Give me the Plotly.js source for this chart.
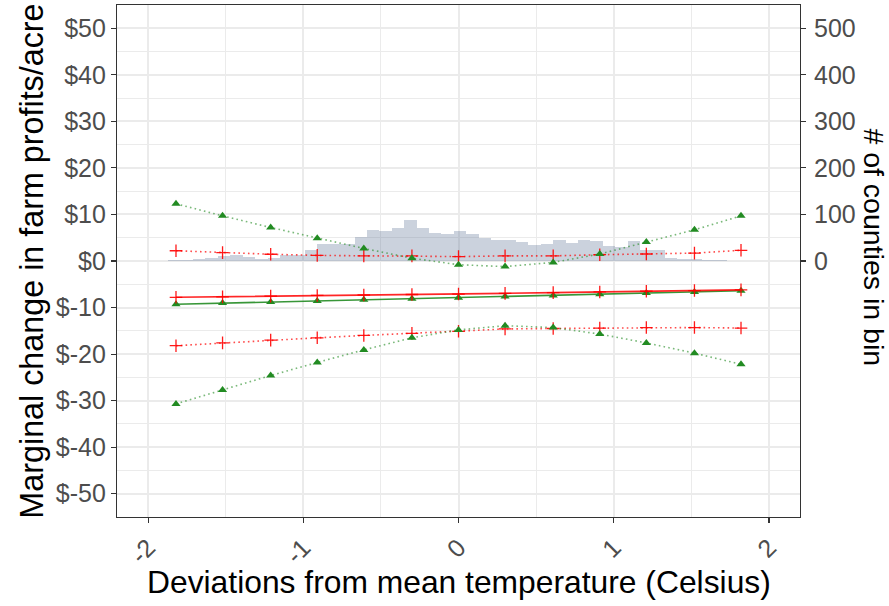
<!DOCTYPE html>
<html>
<head>
<meta charset="utf-8">
<script src="https://cdn.plot.ly/plotly-3.0.1.min.js"></script>
<style>html,body{margin:0;padding:0;background:#fff;}#chart{width:889px;height:606px;}</style>
</head>
<body>
<div id="chart"></div>
<script>
// ---- data ----
const tempPoints = [-1.82,-1.52,-1.21,-0.91,-0.61,-0.30,0,0.30,0.61,0.91,1.21,1.52,1.82];
const redEst   = [-7.8,-7.7,-7.55,-7.4,-7.3,-7.2,-7.1,-6.95,-6.8,-6.65,-6.5,-6.35,-6.2];
const redUpper = [2.2,1.8,1.45,1.2,1.1,1.1,0.95,1.1,1.1,1.35,1.5,1.7,2.3];
const redLower = [-18.2,-17.6,-17.0,-16.5,-16.0,-15.55,-15.1,-14.6,-14.5,-14.4,-14.3,-14.3,-14.4];
const greenEst   = [-9.3,-9.05,-8.8,-8.6,-8.35,-8.1,-7.9,-7.65,-7.4,-7.15,-6.9,-6.65,-6.4];
const greenUpper = [12.3,9.7,7.2,4.9,2.7,0.6,-0.8,-1.2,-0.3,1.5,4.1,6.7,9.7];
const greenLower = [-30.7,-27.7,-24.6,-21.8,-19.1,-16.5,-14.8,-13.9,-14.3,-15.7,-17.6,-19.8,-22.2];

const binCenters = [-1.83,-1.75,-1.67,-1.59,-1.51,-1.43,-1.35,-1.27,-1.19,-1.11,-1.03,-0.95,-0.87,-0.79,-0.71,
  -0.63,-0.55,-0.47,-0.39,-0.31,-0.23,-0.15,-0.07,0.01,0.09,0.17,0.25,0.33,0.41,0.49,0.57,0.65,0.73,0.81,0.89,
  0.97,1.05,1.13,1.21,1.29,1.37,1.45,1.53,1.61,1.69];
const binCounts = [2,2,4,7,10,13,9,5,6,12,13,24,36,37,36,52,66,64,71,89,70,60,57,64,57,50,46,46,41,35,36,45,38,45,44,
  33,30,43,24,23,7,5,5,2,2];
const binWidth = 0.08;

const xTickVals = [-2,-1,0,1,2];
const xTickText = ["-2","-1","0","1","2"];
const yTickVals = [-50,-40,-30,-20,-10,0,10,20,30,40,50];
const yTickText = ["$-50","$-40","$-30","$-20","$-10","$0","$10","$20","$30","$40","$50"];
const countTickVals = [0,100,200,300,400,500];
const countTickText = ["0","100","200","300","400","500"];

const titleX = "Deviations from mean temperature (Celsius)";
const titleY = "Marginal change in farm profits/acre";
const titleY2 = "# of counties in bin";

// ---- traces ----
const GREEN = "#228B22";
const DOT = "1.6px,3.2px";
function ln(y, color, dash, width, symbol, msize, mcolor){
  const m = symbol === "cross-thin"
    ? {symbol: symbol, size: msize, color: mcolor, line: {color: mcolor, width: 1.3}}
    : {symbol: symbol, size: msize, color: mcolor, line: {width: 0}};
  return {x: tempPoints, y: y, type: "scatter", mode: "lines+markers", yaxis: "y2",
    line: {color: color, dash: dash, width: width}, marker: m, showlegend: false, hoverinfo: "skip"};
}
const traces = [
  {x: binCenters, y: binCounts, type: "bar", width: binWidth, yaxis: "y",
   marker: {color: "rgba(82,105,142,0.3)", line: {width: 0}}, showlegend: false, hoverinfo: "skip"},
  ln(redUpper, "rgba(255,0,0,0.7)", DOT, 1.6, "cross-thin", 9, "rgba(255,0,0,0.9)"),
  ln(redLower, "rgba(255,0,0,0.7)", DOT, 1.6, "cross-thin", 9, "rgba(255,0,0,0.9)"),
  ln(greenUpper, "rgba(34,139,34,0.6)", DOT, 1.6, "triangle-up", 8, GREEN),
  ln(greenLower, "rgba(34,139,34,0.6)", DOT, 1.6, "triangle-up", 8, GREEN),
  ln(greenEst, "rgba(34,139,34,0.9)", "solid", 1.6, "triangle-up", 8, GREEN),
  ln(redEst, "rgba(255,0,0,0.85)", "solid", 1.6, "cross-thin", 9, "rgba(255,0,0,0.9)")
];

const FONT = "Liberation Sans, Arial, sans-serif";
const tickFont = {family: FONT, size: 25, color: "#4D4D4D"};
const GRID = "#EBEBEB";

const layout = {
  width: 889, height: 606,
  margin: {l: 117, r: 89, t: 5, b: 89, pad: 0},
  paper_bgcolor: "#FFFFFF", plot_bgcolor: "#FFFFFF",
  font: {family: FONT},
  bargap: 0,
  showlegend: false,
  xaxis: {
    range: [-2.2, 2.2], tickmode: "array", tickvals: xTickVals, ticktext: xTickText,
    tickangle: -45, tickfont: tickFont, ticks: "outside", ticklen: 5, tickwidth: 1.1, tickcolor: "#333333",
    showline: true, mirror: true, linecolor: "#333333", linewidth: 1.1,
    showgrid: true, gridcolor: GRID, gridwidth: 2, zeroline: false,
    minor: {dtick: 0.5, tick0: 0, showgrid: true, gridcolor: GRID, gridwidth: 1.1, ticks: ""}
  },
  yaxis: {
    range: [-550, 550], side: "right", tickmode: "array", tickvals: countTickVals, ticktext: countTickText,
    tickfont: tickFont, ticks: "outside", ticklen: 5, tickwidth: 1.1, tickcolor: "#333333",
    ticklabelstandoff: 3,
    showline: false, showgrid: false, zeroline: false
  },
  yaxis2: {
    range: [-55, 55], side: "left", overlaying: "y", tickmode: "array", tickvals: yTickVals, ticktext: yTickText,
    tickfont: tickFont, ticks: "outside", ticklen: 5, tickwidth: 1.1, tickcolor: "#333333",
    showline: true, mirror: true, linecolor: "#333333", linewidth: 1.1,
    showgrid: true, gridcolor: GRID, gridwidth: 2, zeroline: false,
    minor: {dtick: 5, tick0: 0, showgrid: true, gridcolor: GRID, gridwidth: 1.1, ticks: ""}
  },
  annotations: [
    {text: titleX, xref: "paper", yref: "paper", x: 0.5, y: -0.127, xanchor: "center", yanchor: "middle",
     showarrow: false, font: {family: FONT, size: 31.8, color: "#000000"}},
    {text: titleY, xref: "paper", yref: "paper", x: -0.125, y: 0.5, xanchor: "center", yanchor: "middle",
     textangle: -90, showarrow: false, font: {family: FONT, size: 32.3, color: "#000000"}},
    {text: titleY2, xref: "paper", yref: "paper", x: 1.108, y: 0.527, xanchor: "center", yanchor: "middle",
     textangle: 90, showarrow: false, font: {family: FONT, size: 28.5, color: "#000000"}}
  ]
};

Plotly.newPlot("chart", traces, layout, {staticPlot: true, displayModeBar: false});
</script>
</body>
</html>
